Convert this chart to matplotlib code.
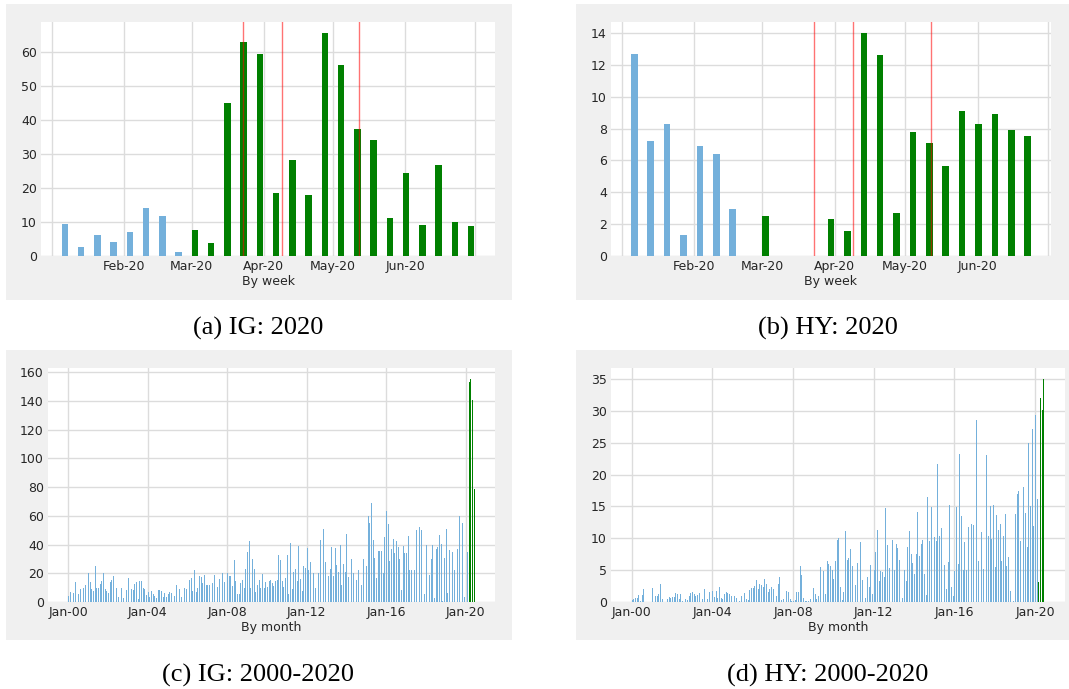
import matplotlib
matplotlib.use("Agg")
import matplotlib.pyplot as plt
from matplotlib.patches import Rectangle
import pandas as pd

# ---------------- data ----------------
week_start = "2020-01-05"
program_start = "2020-03-01"
fed_events = ["2020-03-23", "2020-04-09", "2020-05-12"]

ig_week = [9.3, 2.7, 6.1, 4.1, 7.1, 14.2, 11.9, 1.3,
           7.6, 3.8, 45.1, 62.8, 59.5, 18.6, 28.3, 18.0,
           65.5, 56.1, 37.4, 34.2, 11.2, 24.4, 9.1, 26.6, 10.0, 8.8]

hy_week = [12.67, 7.2, 8.3, 1.29, 6.88, 6.38, 2.93, 0.0,
           2.53, 0.0, 0.0, 0.0, 2.3, 1.6, 14.0, 12.63,
           2.72, 7.79, 7.1, 5.65, 9.08, 8.31, 8.89, 7.91, 7.52]

month_start = "2000-01-01"
ig_month = [
    4, 7, 7, 6, 14, 9, 5.5, 9, 5.5, 10, 11.5, 9.7,                 # 2000
    20, 14, 9, 7.4, 25.4, 10, 10, 12.5, 14.8, 20, 9, 7.4,          # 2001
    6.5, 14, 15, 18, 7.4, 10, 3.7, 8.8, 10, 3, 5.5, 8.3,           # 2002
    16.6, 13.4, 8.8, 8.3, 12.5, 14, 2.3, 14.3, 14.3, 9.7, 9.2, 4.6,  # 2003
    6.9, 3.7, 7.9, 5.5, 4.2, 2.8, 8.3, 8.3, 7.9, 3.7, 6, 3.2,      # 2004
    5.5, 6.9, 6, 7.9, 4.2, 11.5, 8.8, 8.8, 3.7, 6.5, 9.7, 8.8,     # 2005
    8.8, 15.2, 16.6, 7.9, 22.2, 6.9, 10, 18, 17.6, 13, 18.5, 12,   # 2006
    11.5, 12, 21.7, 13, 18.5, 15.7, 10.6, 16.2, 18.5, 20.3, 14, 20,  # 2007
    20, 18, 18, 11, 29, 14.3, 5.5, 5.5, 13.4, 15.2, 10, 23.3,      # 2008
    35, 42.5, 10, 30, 23, 6.9, 11.5, 15.2, 9.7, 19.4, 10, 14,      # 2009
    10.6, 14.8, 15.2, 13.4, 11, 14.3, 15.2, 33, 29.5, 14.8, 10.6, 16.6,  # 2010
    33, 5.5, 41, 8.8, 21, 23, 14.8, 38.8, 15.7, 7.9, 25.4, 23.5,   # 2011
    37.4, 22.6, 28, 20.3, 20.3, 9.7, 21.2, 20.3, 43, 15.2, 50.8, 28,  # 2012
    25.4, 18, 23, 38.3, 18, 37.4, 25.9, 20.8, 40, 11.5, 26.3, 21.2,  # 2013
    47.6, 17.6, 25.4, 30, 20, 35, 15, 22, 40, 12, 30, 20,          # 2014
    25.4, 59.6, 55.4, 68.8, 43, 31, 16.6, 35.5, 35.5, 35.5, 20, 45,  # 2015
    63.7, 54.5, 28.6, 37, 44, 34, 42.5, 38, 30, 8.3, 39, 34,       # 2016
    34, 46, 22, 22, 69, 22, 50, 38, 52.6, 50, 9, 5.5,              # 2017
    39.5, 74, 19, 30, 40, 2.8, 37, 38, 47, 40.6, 1, 31,            # 2018
    51, 6, 36.5, 55, 35, 22.6, 53, 37, 59.6, 16, 55, 3.7,          # 2019
    22.2, 34.5, 153, 155.3, 140.6, 79,                             # 2020
]
hy_month = [
    0.3, 0.5, 0.7, 0.6, 1.1, 0.2, 1.1, 2.0, 0, 0, 0, 0,            # 2000
    2.2, 0.6, 0.9, 1.0, 1.2, 2.9, 0.4, 1.8, 0, 0.5, 0.8, 0.7,      # 2001
    0.8, 0.8, 1.4, 1.3, 0.4, 1.3, 0.2, 0, 0.5, 0.3, 1.0, 1.4,      # 2002
    1.5, 1.2, 1.0, 1.1, 1.4, 3.6, 0.4, 2.0, 1.9, 0.5, 1.5, 2.2,    # 2003
    1.8, 0.8, 1.7, 0.7, 2.4, 0.7, 0.4, 1.2, 1.6, 1.4, 1.2, 0.9,    # 2004
    0.8, 1.0, 0.6, 0.5, 0.2, 1.0, 0.2, 1.4, 0.4, 0.3, 1.9, 2.2,    # 2005
    2.2, 2.5, 3.5, 2.0, 2.8, 2.6, 2.3, 3.6, 2.9, 1.6, 2.0, 2.3,    # 2006
    2.0, 8.4, 1.0, 2.8, 3.9, 0.3, 0.4, 0.0, 1.7, 1.6, 0.5, 0.2,    # 2007
    0.1, 0.3, 1.6, 1.6, 5.6, 4.2, 0.7, 0.1, 0.1, 0.1, 0.5, 0.6,    # 2008
    2.2, 1.2, 0.5, 1.0, 5.5, 3.9, 4.8, 1.2, 6.4, 6.0, 5.7, 5.1,    # 2009
    3.6, 6.4, 9.8, 10.0, 2.4, 0.3, 1.5, 11.2, 6.6, 6.9, 8.4, 5.6,  # 2010
    5.2, 2.6, 6.1, 5.6, 9.4, 3.5, 6.7, 0.7, 4.0, 2.4, 5.8, 1.2,    # 2011
    5.0, 7.9, 11.3, 3.3, 4.8, 4.7, 3.9, 14.8, 9.0, 5.3, 8.2, 9.8,  # 2012
    5.1, 9.1, 8.5, 6.6, 19.7, 0.6, 5.1, 3.3, 8.6, 11.2, 7.5, 6.1,  # 2013
    4.4, 7.5, 14.1, 7.3, 9.1, 9.7, 4.4, 1.1, 16.5, 9.6, 14.9, 3.1,  # 2014
    10.2, 9.6, 21.6, 10.4, 11.7, 6.8, 5.8, 2.1, 6.3, 15.2, 2.4, 1.0,  # 2015
    4.8, 14.9, 6.0, 23.2, 13.5, 5.1, 9.5, 5.1, 11.8, 6.1, 12.2, 12.1,  # 2016
    11.2, 28.6, 6.4, 22.4, 11.0, 5.2, 10.8, 23.1, 10.4, 15.0, 9.9, 15.3,  # 2017
    5.5, 13.7, 11.3, 12.3, 6.4, 10.4, 13.8, 5.7, 7.0, 1.7, 0.2, 0.1,  # 2018
    13.8, 17.0, 17.4, 9.6, 19.7, 18.1, 14.0, 8.6, 24.9, 15.0, 27.2, 12.0,  # 2019
    29.4, 16.2, 3.1, 32.0, 30.1, 35.0,                             # 2020
]

captions = ["(a) IG: 2020", "(b) HY: 2020", "(c) IG: 2000-2020", "(d) HY: 2000-2020"]

# ---------------- styling ----------------
BLUE = "#74b0db"
GREEN = "#008000"
PANEL = "#f0f0f0"
GRID = "#dcdcdc"
TXT = "#262626"
FS = 9

W, H = 1069, 689
fig = plt.figure(figsize=(W / 100, H / 100), dpi=100)
fig.patch.set_facecolor("white")


def rect(l, t, r, b):
    return [l / W, 1 - b / H, (r - l) / W, (b - t) / H]


for (l, t, r, b) in [(6, 4, 512, 300), (576, 4, 1069, 300),
                     (6, 350, 512, 640), (576, 350, 1069, 640)]:
    fig.add_artist(Rectangle((l / W, 1 - b / H), (r - l) / W, (b - t) / H,
                             transform=fig.transFigure, facecolor=PANEL,
                             edgecolor="none", zorder=-10))


def style(ax, xlabel):
    ax.set_facecolor("white")
    for s in ax.spines.values():
        s.set_visible(False)
    ax.grid(True, color=GRID, linewidth=1.0)
    ax.set_axisbelow(True)
    ax.tick_params(length=0, labelsize=FS, colors=TXT, pad=3)
    ax.set_xlabel(xlabel, fontsize=FS, color=TXT, labelpad=1)


def weekly(ax, values):
    dates = pd.date_range(week_start, periods=len(values), freq="7D")
    cols = [GREEN if d >= pd.Timestamp(program_start) else BLUE for d in dates]
    ax.bar(dates, values, width=2.8, align="edge", color=cols,
           edgecolor="none", zorder=2)
    for ev in fed_events:
        ax.axvline(pd.Timestamp(ev), color="red", alpha=0.55, linewidth=1, zorder=3)
    months = pd.date_range("2020-01-01", "2020-07-01", freq="MS")
    ax.set_xticks(months)
    ax.set_xticklabels(["" if m.month in (1, 7) else m.strftime("%b-%y") for m in months])
    style(ax, "By week")


def monthly(ax, values):
    dates = pd.date_range(month_start, periods=len(values), freq="MS")
    cols = [GREEN if d >= pd.Timestamp(program_start) else BLUE for d in dates]
    ax.bar(dates, values, width=16, align="edge", color=cols,
           edgecolor="none", linewidth=0, zorder=2)
    ticks = pd.date_range("2000-01-01", "2020-01-01", freq="48MS")
    ax.set_xticks(ticks)
    ax.set_xticklabels([t.strftime("%b-%y") for t in ticks])
    style(ax, "By month")


ax_a = fig.add_axes(rect(41, 22, 495, 256))
weekly(ax_a, ig_week)
ax_b = fig.add_axes(rect(611, 22, 1051, 256))
weekly(ax_b, hy_week)
ax_c = fig.add_axes(rect(48, 368, 495, 602))
monthly(ax_c, ig_month)
ax_d = fig.add_axes(rect(611, 368, 1065, 602))
monthly(ax_d, hy_month)

for cap, (cx, cy) in zip(captions, [(258, 328), (828, 328), (258, 675), (828, 675)]):
    fig.text(cx / W, 1 - cy / H, cap, ha="center", va="center",
             family="Liberation Serif", fontsize=19, color="black")

fig.savefig("out.png", dpi=100, facecolor="white")
